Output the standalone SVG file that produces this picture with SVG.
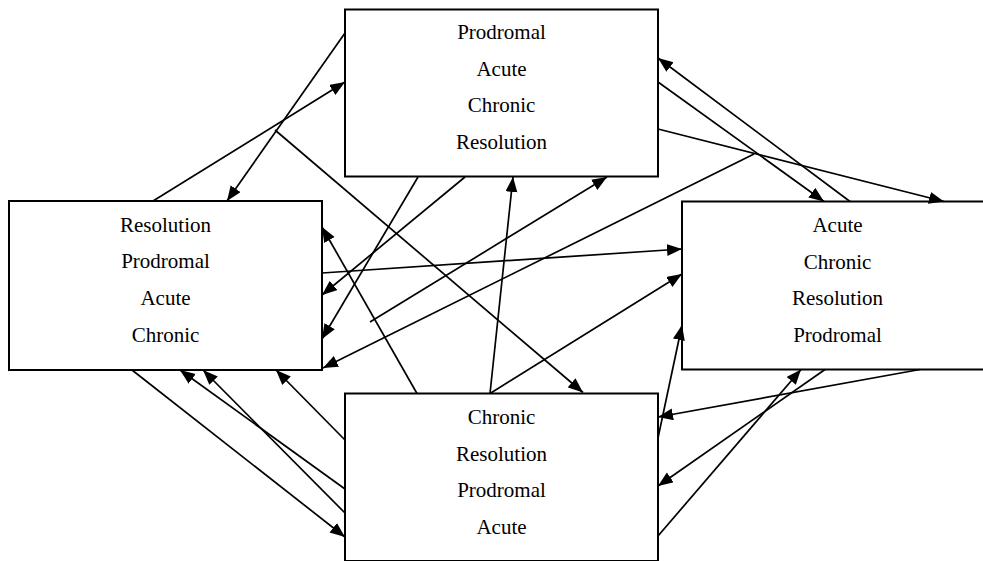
<svg xmlns="http://www.w3.org/2000/svg" width="983" height="561" viewBox="0 0 983 561">
<style>
.box{fill:#fff;stroke:#000;stroke-width:2}
text{font-family:'Liberation Serif','Times New Roman',serif;font-size:21px;fill:#000;text-anchor:middle}
.c{fill:none;stroke:#000;stroke-width:1.7;marker-end:url(#ah)}
</style>
<defs>
<marker id="ah" markerUnits="userSpaceOnUse" markerWidth="16" markerHeight="13" refX="15" refY="6" orient="auto">
<path d="M0,0 L15,6 L0,12 z" fill="#000"/>
</marker>
</defs>
<rect width="983" height="561" fill="#fff"/>
<g id="node-top">
<rect class="box" x="345" y="9.5" width="313" height="167"/>
<text x="501.5" y="39">Prodromal</text>
<text x="501.5" y="75.7">Acute</text>
<text x="501.5" y="112.3">Chronic</text>
<text x="501.5" y="149">Resolution</text>
</g>
<g id="node-left">
<rect class="box" x="9" y="201" width="313" height="169"/>
<text x="165.5" y="231.7">Resolution</text>
<text x="165.5" y="268.3">Prodromal</text>
<text x="165.5" y="305">Acute</text>
<text x="165.5" y="341.7">Chronic</text>
</g>
<g id="node-right">
<rect class="box" x="682" y="201.5" width="311" height="168"/>
<text x="837.5" y="232.3">Acute</text>
<text x="837.5" y="268.8">Chronic</text>
<text x="837.5" y="305.3">Resolution</text>
<text x="837.5" y="341.8">Prodromal</text>
</g>
<g id="node-bottom">
<rect class="box" x="345" y="393.5" width="313" height="167.5"/>
<text x="501.5" y="424.3">Chronic</text>
<text x="501.5" y="460.8">Resolution</text>
<text x="501.5" y="497.3">Prodromal</text>
<text x="501.5" y="533.8">Acute</text>
</g>
<g id="connectors">
<line class="c" x1="345" y1="33" x2="227" y2="201"/>
<line class="c" x1="153" y1="201" x2="345" y2="82"/>
<line class="c" x1="275" y1="130" x2="583" y2="392.5"/>
<line class="c" x1="658" y1="82" x2="824" y2="201.5"/>
<line class="c" x1="850" y1="201.5" x2="658" y2="58"/>
<line class="c" x1="658" y1="129" x2="944" y2="201.5"/>
<line class="c" x1="754" y1="154" x2="323" y2="368"/>
<line class="c" x1="370" y1="322" x2="607" y2="177"/>
<line class="c" x1="418" y1="177" x2="322" y2="339"/>
<line class="c" x1="465" y1="177" x2="322" y2="295"/>
<line class="c" x1="322" y1="273" x2="682" y2="249"/>
<line class="c" x1="417" y1="393.5" x2="322" y2="227"/>
<line class="c" x1="490" y1="393.5" x2="513" y2="177"/>
<line class="c" x1="490" y1="393.5" x2="682" y2="274"/>
<line class="c" x1="658" y1="438" x2="682" y2="325"/>
<line class="c" x1="920" y1="369.5" x2="658" y2="417"/>
<line class="c" x1="825" y1="369.5" x2="658" y2="486"/>
<line class="c" x1="658" y1="536" x2="801" y2="369.5"/>
<line class="c" x1="132" y1="370" x2="345" y2="537"/>
<line class="c" x1="345" y1="489" x2="180" y2="370"/>
<line class="c" x1="345" y1="513" x2="203" y2="370"/>
<line class="c" x1="345" y1="440" x2="276" y2="370"/>
</g>
</svg>
